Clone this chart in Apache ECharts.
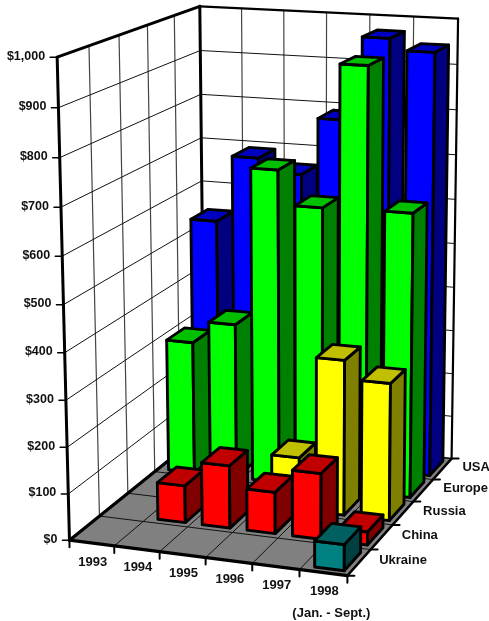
<!DOCTYPE html>
<html><head><meta charset="utf-8">
<style>html,body{margin:0;padding:0;background:#fff}#c{width:489px;height:621px}</style>
<script src="https://cdn.jsdelivr.net/npm/echarts@6/dist/echarts.min.js"></script>
</head><body><div id="c"></div>
<script>
const years = ['1993','1994','1995','1996','1997','1998'];
const yearNote = '(Jan. - Sept.)';
const regions = ['Ukraine','China','Russia','Europe','USA'];
const valueTicks = [0,100,200,300,400,500,600,700,800,900,1000];
const ukraine = [null,null,null,null,null,55];
const china   = [null,81,136,90,142,28];
const russia  = [null,null,null,116,340,300];
const europe  = [300,350,700,625,935,628];
const usa     = [540,690,660,787,970,945];
const rowValues = [ukraine,china,russia,europe,usa];
const frontColors = ['#008080','#ff0000','#ffff00','#00ff00','#0000ff'];
const sideColors  = ['#004040','#800000','#808000','#008000','#000080'];
const topColors   = ['#006060','#c00000','#c0c000','#00c000','#0000c0'];

// camera calibration: cube corners [x,y,z] -> page pixel
const calib = [
 [0,0,0,70,539],[1,0,0,347,577],[1,0,1,452,457],[0,0,1,204,433],
 [0,1,0,57,57],[1,1,1,458,19],[0,1,1,200,6]];
function solveCamera(){
  const R=[],b=[];
  calib.forEach(([x,y,z,u,v])=>{
    R.push([x,y,z,1,0,0,0,0,-u*x,-u*y,-u*z]); b.push(u);
    R.push([0,0,0,0,x,y,z,1,-v*x,-v*y,-v*z]); b.push(v);
  });
  const n=11,M=[];
  for(let i=0;i<n;i++){M.push([]);for(let j=0;j<=n;j++){let s=0;
    for(let k=0;k<R.length;k++)s+=R[k][i]*(j<n?R[k][j]:b[k]);M[i].push(s);}}
  for(let i=0;i<n;i++){let p=i;for(let r=i+1;r<n;r++)if(Math.abs(M[r][i])>Math.abs(M[p][i]))p=r;
    [M[i],M[p]]=[M[p],M[i]];
    for(let r=0;r<n;r++){if(r===i)continue;const f=M[r][i]/M[i][i];for(let c=i;c<=n;c++)M[r][c]-=f*M[i][c];}}
  return M.map((r,i)=>r[n]/r[i]);
}
const P=solveCamera();
function project(x,y,z){
  const w=P[8]*x+P[9]*y+P[10]*z+1;
  return [(P[0]*x+P[1]*y+P[2]*z+P[3])/w,(P[4]*x+P[5]*y+P[6]*z+P[7])/w];
}
// go through the library's axes (column units, dollars), then the camera; depth in row units
function pt(api,cs,col,val,row){
  const c=api.coord([col,val]);
  return project((c[0]-cs.x)/cs.width,(cs.y+cs.height-c[1])/cs.height,row/regions.length);
}
const seg=(a,b,w,col)=>({type:'line',shape:{x1:a[0],y1:a[1],x2:b[0],y2:b[1]},style:{stroke:col||'#000',lineWidth:w,lineCap:'round'}});
const poly=(pts,fill,w)=>({type:'polygon',shape:{points:pts},style:{fill:fill,stroke:fill&&w?'#000':null,lineWidth:w||0,lineJoin:'round'}});
const txt=(s,p,dx,dy,align,size)=>({type:'text',x:p[0]+dx,y:p[1]+dy,style:{text:s,fill:'#111',font:'bold '+(size||13)+'px "Liberation Sans"',align:align,verticalAlign:'middle'}});

function renderFrame(params,api){
  const cs=params.coordSys,ch=[],nc=years.length,nr=regions.length,vm=1000;
  const p=(c,v,r)=>pt(api,cs,c,v,r);
  ch.push(poly([p(0,0,0),p(nc,0,0),p(nc,0,nr),p(0,0,nr)],'#808080'));
  for(let c=1;c<nc;c++){ch.push(seg(p(c,0,0),p(c,0,nr),1,'#111'));ch.push(seg(p(c,0,nr),p(c,vm,nr),1.2,'#444'));}
  for(let r=1;r<nr;r++){ch.push(seg(p(0,0,r),p(nc,0,r),1,'#111'));ch.push(seg(p(0,0,r),p(0,vm,r),1.2,'#444'));}
  valueTicks.forEach(v=>{
    if(v===0||v===vm)return;
    ch.push(seg(p(0,v,0),p(0,v,nr),1,'#111'));ch.push(seg(p(0,v,nr),p(nc,v,nr),1,'#111'));
  });
  // heavy frame
  ch.push(seg(p(0,vm,0),p(0,vm,nr),3));ch.push(seg(p(0,vm,nr),p(nc,vm,nr),2.2));
  ch.push(seg(p(0,0,0),p(0,vm,0),3));ch.push(seg(p(0,0,nr),p(0,vm,nr),3));
  ch.push(seg(p(nc,0,nr),p(nc,vm,nr),2.2));
  ch.push(seg(p(0,0,0),p(nc,0,0),3.2));ch.push(seg(p(0,0,0),p(0,0,nr),3.2));
  ch.push(seg(p(nc,0,0),p(nc,0,nr),2.4));ch.push(seg(p(0,0,nr),p(nc,0,nr),1.5));
  // ticks and labels
  valueTicks.forEach(v=>{
    const a=p(0,v,0);ch.push(seg(a,[a[0]-7,a[1]],1.5));
    ch.push(txt('$'+v.toLocaleString('en-US'),a,-12,-1,'right',12.5));
  });
  for(let c=0;c<=nc;c++){const a=p(c,0,0);ch.push(seg(a,[a[0],a[1]+7],2));}
  years.forEach((y,i)=>ch.push(txt(y,p(i+.5,0,0),1,19,'center')));
  const last=p(nc-.5,0,0);ch.push(txt(yearNote,last,8,41,'center'));
  for(let r=0;r<=nr;r++){const a=p(nc,0,r);ch.push(seg(a,[a[0]+7,a[1]],2));}
  regions.forEach((s,i)=>ch.push(txt(s,p(nc,0,i+.5),20,-1.5,'left')));
  return {type:'group',children:ch};
}
const barW=.31,barD=.35,barShift=.05;
function renderBar(row){return function(params,api){
  const cs=params.coordSys,c=api.value(0)+.5+barShift,v=api.value(1),r=row+.5;
  if(!(v>0))return null;
  const p=(cc,vv,rr)=>pt(api,cs,cc,vv,rr);
  const l=c-barW,R=c+barW,f=r-barD,b=r+barD;
  return {type:'group',children:[
    poly([p(l,0,f),p(R,0,f),p(R,v,f),p(l,v,f)],frontColors[row],2.9),
    poly([p(R,0,f),p(R,0,b),p(R,v,b),p(R,v,f)],sideColors[row],2.9),
    poly([p(l,v,f),p(R,v,f),p(R,v,b),p(l,v,b)],topColors[row],2.9)
  ]};
};}
const series=[{type:'custom',silent:true,clip:false,animation:false,data:[[0,0]],renderItem:renderFrame}];
for(let row=regions.length-1;row>=0;row--){
  series.push({type:'custom',name:regions[row],silent:true,clip:false,animation:false,
    data:rowValues[row].map((v,i)=>[i,v]),renderItem:renderBar(row)});
}
const chart=echarts.init(document.getElementById('c'),null,{renderer:'canvas'});
chart.setOption({animation:false,backgroundColor:'#fff',
  grid:{left:0,right:0,top:0,bottom:0},
  xAxis:{type:'value',min:0,max:years.length,show:false},
  yAxis:{type:'value',min:0,max:1000,show:false},
  series:series});
</script></body></html>
